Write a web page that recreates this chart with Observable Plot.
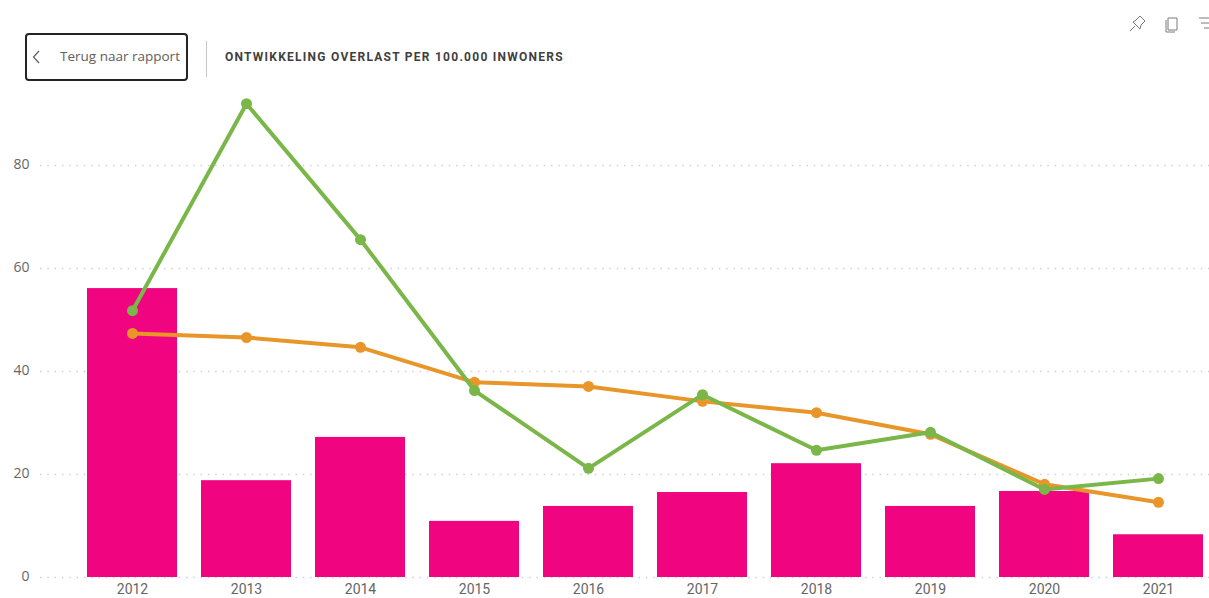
<!DOCTYPE html>
<html><head><meta charset="utf-8">
<script src="https://cdn.jsdelivr.net/npm/d3@7"></script>
<script src="https://cdn.jsdelivr.net/npm/@observablehq/plot@0.6"></script>
<style>
html,body{margin:0;padding:0;background:#fff;overflow:hidden;width:1209px;height:598px}
#chart{position:absolute;left:0;top:0}
#back{position:absolute;left:25px;top:33px;width:159px;height:44px;border:2px solid #252423;border-radius:4px;font:13.5px "Open Sans",sans-serif;color:#605e5c}
#back span{position:absolute;left:33px;top:12px;white-space:nowrap}
#back svg{position:absolute;left:4px;top:14px}
#sep{position:absolute;left:206px;top:41px;width:1px;height:36px;background:#c8c6c4}
#title{position:absolute;left:225px;top:50px;font:bold 12px Roboto,sans-serif;letter-spacing:1.25px;color:#3f3f3f;white-space:nowrap}
#icons{position:absolute;left:1128px;top:14px}
</style></head><body>
<div id="chart"></div>
<div id="back"><svg width="12" height="16" viewBox="0 0 12 16"><path d="M8 2 L2.5 8 L8 14" fill="none" stroke="#605e5c" stroke-width="1.2"/></svg><span>Terug naar rapport</span></div>
<div id="sep"></div>
<div id="title">ONTWIKKELING OVERLAST PER 100.000 INWONERS</div>
<svg id="icons" width="81" height="22" viewBox="0 0 81 22" fill="none" stroke="#7a7a7a" stroke-width="1">
<path d="M2 17 L7 12 M5 8 L12 15 L13 11 L17 7 L12 2 L8 6 Z"/>
<path d="M40 4 H49 V16 H40 Z M38 6 V18 H47"/>
<path d="M71 4 H81 M73 9 H81 M76 14 H81"/>
</svg>
<script>
const years = ["2012","2013","2014","2015","2016","2017","2018","2019","2020","2021"];
const barValues = [56.1,18.8,27.2,10.9,13.8,16.5,22.1,13.8,16.7,8.3];
const greenValues = [51.8,92.0,65.6,36.3,21.2,35.5,24.7,28.2,17.1,19.2];
const orangeValues = [47.4,46.6,44.7,37.9,37.1,34.2,32.0,27.8,18.1,14.6];
const yTicks = [0,20,40,60,80];
const rows = years.map((year,i)=>({year,bar:barValues[i],green:greenValues[i],orange:orangeValues[i]}));
const green = "#7ab648", orange = "#e8962a", pink = "#f0047f";
const plot = Plot.plot({
  width:1209, height:598,
  marginLeft:40, marginRight:0, marginTop:0, marginBottom:21,
  style:{background:"transparent"},
  x:{type:"band",domain:years,range:[75,1216],paddingInner:0.21,paddingOuter:0.105,align:0.5,label:null},
  y:{domain:[0,100],range:[577,62],label:null},
  marks:[
    Plot.ruleY(yTicks,{stroke:"#d0d0d0",strokeOpacity:1,strokeWidth:1.5,strokeDasharray:"1.5 5.8"}),
    Plot.barY(rows,{x:"year",y:"bar",fill:pink}),
    Plot.line(rows,{x:"year",y:"orange",stroke:orange,strokeWidth:4}),
    Plot.dot(rows,{x:"year",y:"orange",fill:orange,r:5.5}),
    Plot.line(rows,{x:"year",y:"green",stroke:green,strokeWidth:4}),
    Plot.dot(rows,{x:"year",y:"green",fill:green,r:5.5}),
    Plot.axisX({tickSize:0,tickPadding:7,fontSize:14,fontFamily:"Roboto",fill:"#666",label:null}),
    Plot.axisY(yTicks,{anchor:"left",tickSize:0,tickPadding:11,dy:-1,fontSize:14,fontFamily:"Open Sans",fill:"#666",label:null})
  ]
});
document.getElementById("chart").append(plot);
</script>
</body></html>
